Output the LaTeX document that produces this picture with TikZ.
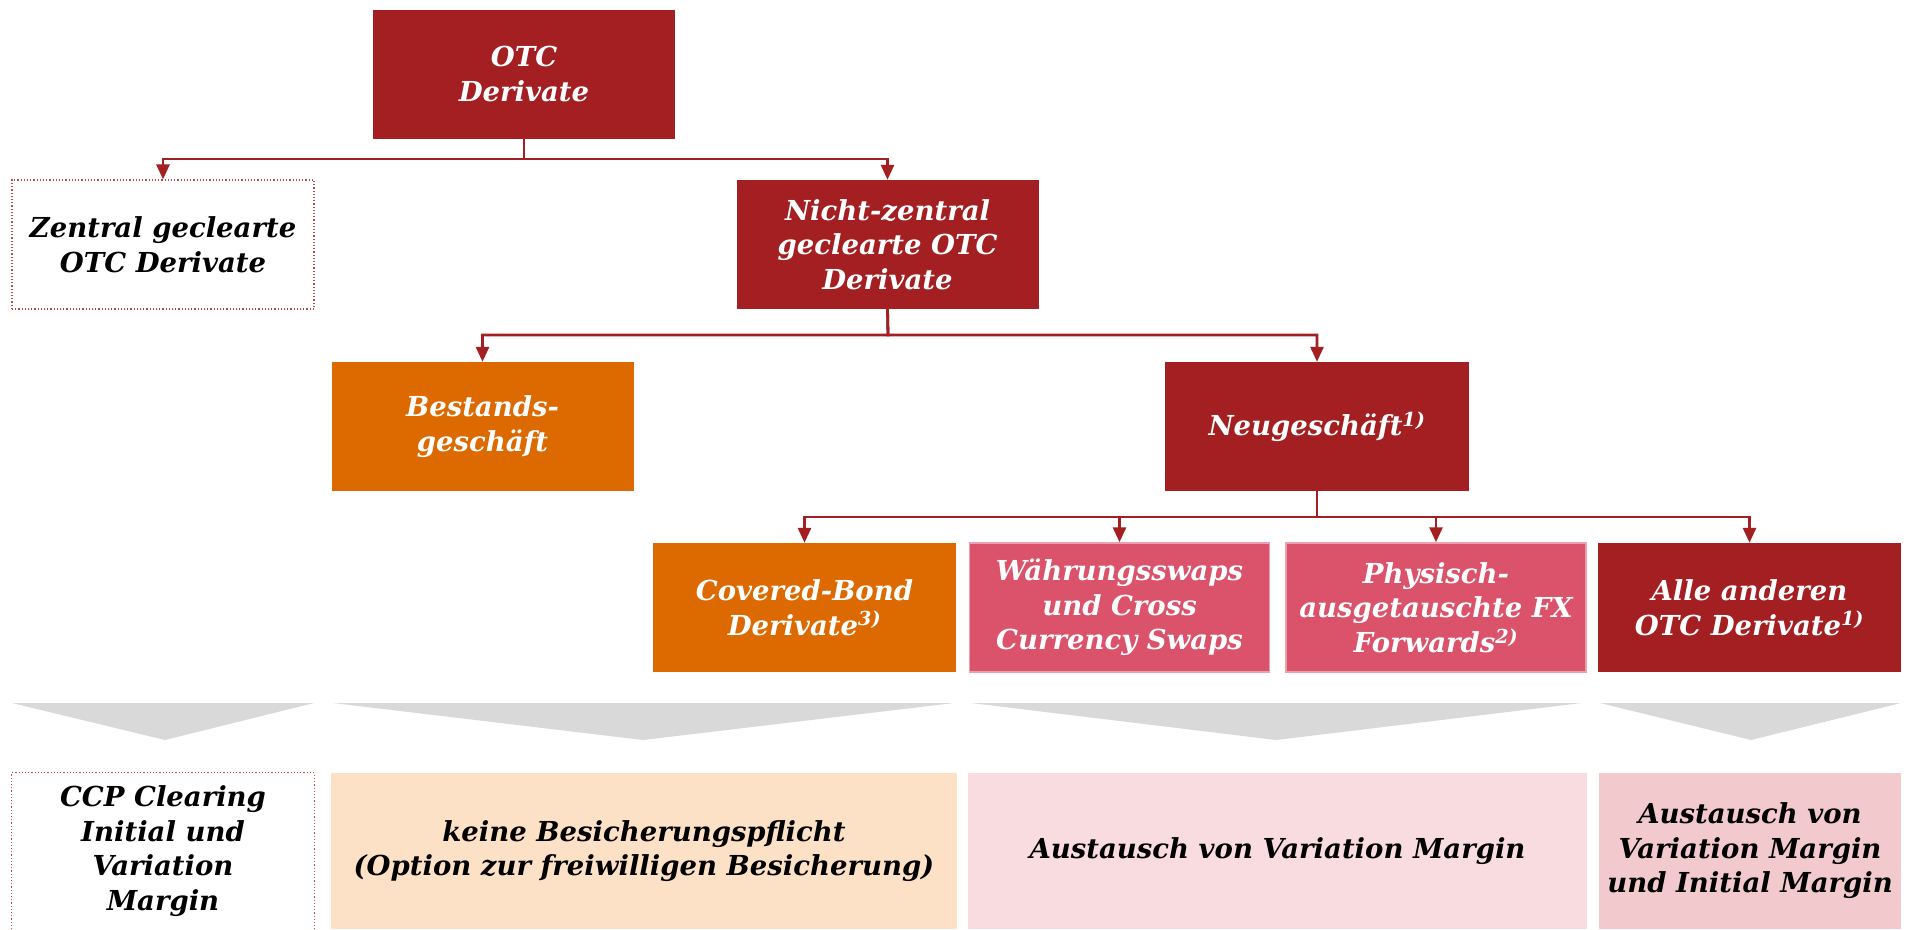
\documentclass[tikz,border=0pt]{standalone}
\usepackage{fontspec}
\setmainfont{DejaVu Serif}
\usetikzlibrary{arrows.meta}
\definecolor{dred}{HTML}{A31F22}
\definecolor{orng}{HTML}{DC6A00}
\definecolor{pnk}{HTML}{DA536B}
\definecolor{peach}{HTML}{FDE1C6}
\definecolor{lpink}{HTML}{F8DCE0}
\definecolor{rpink}{HTML}{F2C9CC}
\definecolor{tgray}{HTML}{D9D9D9}
\newcommand\bxfont{\fontsize{27.5}{34.5}\selectfont\bfseries\itshape}
\begin{document}
\begin{tikzpicture}[x=1pt,y=-1pt,
  box/.style={rectangle, minimum width=302pt, minimum height=129pt, inner sep=0pt, align=center, font=\bxfont, text=white},
  redbox/.style={box, fill=dred},
  orbox/.style={box, fill=orng},
  pkbox/.style={box, fill=pnk, draw=pnk!55!white, line width=1.5pt},
  dotbox/.style={box, text=black, draw=dred!80!white, dotted, line width=1.2pt},
  lowbox/.style={box, text=black, minimum height=156pt},
  conn/.style={draw=dred, line width=2.8pt, -{Triangle[width=13pt,length=15pt]}},
  tri/.style={fill=tgray}]
\useasboundingbox (0,0) rectangle (1911,929);

% level 0
\node[redbox] (otc) at (524,74) {OTC\\Derivate};
% level 1
\node[dotbox] (zentral) at (163,244.5) {Zentral geclearte\\OTC Derivate};
\node[redbox] (nicht) at (887.5,244.5) {Nicht-zentral\\geclearte OTC\\Derivate};
% level 2
\node[orbox] (bestand) at (482.5,426.5) {Bestands-\\geschäft};
\node[redbox, minimum width=304pt] (neu) at (1317,426.5) {Neugeschäft\textsuperscript{1)}};
% level 3
\node[orbox, minimum width=303pt] (covered) at (804.5,607.5) {Covered-Bond\\Derivate\textsuperscript{3)}};
\node[pkbox, minimum width=300pt] (waehrung) at (1119.5,607.5) {Währungsswaps\\und Cross\\Currency Swaps};
\node[pkbox, minimum width=300pt] (physisch) at (1436,607.5) {Physisch-\\ausgetauschte FX\\Forwards\textsuperscript{2)}};
\node[redbox, minimum width=303pt] (alle) at (1749.5,607.5) {Alle anderen\\OTC Derivate\textsuperscript{1)}};

% junctions
\coordinate (j1) at (524,159);
\coordinate (j2) at (888,335);
\coordinate (j3) at (1317,517);

\draw[conn] (otc.south) -- (j1) -| (zentral.north);
\draw[conn] (otc.south) -- (j1) -| (nicht.north);
\draw[conn] (nicht.south) -- (j2) -| (bestand.north);
\draw[conn] (nicht.south) -- (j2) -| (neu.north);
\draw[conn] (neu.south) -- (j3) -| (covered.north);
\draw[conn] (neu.south) -- (j3) -| (waehrung.north);
\draw[conn] (neu.south) -- (j3) -| (physisch.north);
\draw[conn] (neu.south) -- (j3) -| (alle.north);

% gray triangles
\fill[tri] (12,703) -- (314,703) -- (165,740) -- cycle;
\fill[tri] (333,703) -- (954,703) -- (643,740) -- cycle;
\fill[tri] (971,703) -- (1582,703) -- (1276,740) -- cycle;
\fill[tri] (1600,703) -- (1901,703) -- (1751,740) -- cycle;

% bottom boxes
\node[lowbox] (ccp) at (163,851) {CCP Clearing\\Initial und\\Variation\\Margin};
\draw[draw=dred!80!white, dotted, line width=1.2pt] (ccp.south west) -- (ccp.north west) -- (ccp.north east) -- (ccp.south east);
\node[lowbox, fill=peach, minimum width=626pt] (keine) at (644,851) {keine Besicherungspflicht\\(Option zur freiwilligen Besicherung)};
\node[lowbox, fill=lpink, minimum width=619pt] (vm) at (1277.5,851) {Austausch von Variation Margin};
\node[lowbox, fill=rpink, minimum width=302pt] (vmim) at (1750,851) {Austausch von\\Variation Margin\\und Initial Margin};
\end{tikzpicture}
\end{document}
